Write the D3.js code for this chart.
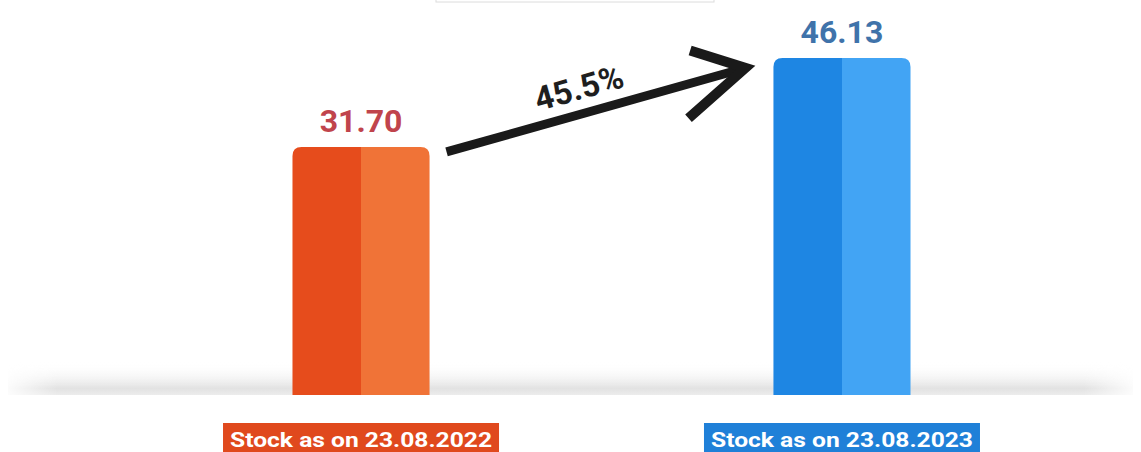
<!DOCTYPE html>
<html>
<head>
    <style>
        body {
            margin: 0;
            background-color: #ffffff;
            font-family: Roboto, Arial, sans-serif;
        }
        .value {
            font-weight: bold;
            font-size: 32px;
            text-anchor: middle;
        }
        .cat {
            font-weight: bold;
            font-size: 21px;
            fill: #ffffff;
            text-anchor: middle;
        }
    </style>
</head>
<body>
    <div id="chart"></div>
    <script src="https://cdn.jsdelivr.net/npm/d3@7"></script>
    <script>
        var categories = ["Stock as on 23.08.2022", "Stock as on 23.08.2023"];
        var values = [31.70, 46.13];
        var growthLabel = "45.5%";
        var darkColors = ["#e64c1c", "#1e86e3"];
        var lightColors = ["#f07337", "#42a4f4"];
        var boxColors = ["#e0491d", "#1f80d8"];
        var valueColors = ["#c0444c", "#3f73aa"];

        var width = 1141, height = 452;
        var floorY = 395;

        var svg = d3.select("#chart").append("svg")
            .attr("width", width)
            .attr("height", height);

        var defs = svg.append("defs");

        // two tone fill for each bar
        categories.forEach(function(c, i) {
            var g = defs.append("linearGradient")
                .attr("id", "bar" + i)
                .attr("x1", "0%").attr("x2", "100%");
            g.append("stop").attr("offset", "0%").attr("stop-color", darkColors[i]);
            g.append("stop").attr("offset", "50%").attr("stop-color", darkColors[i]);
            g.append("stop").attr("offset", "50%").attr("stop-color", lightColors[i]);
            g.append("stop").attr("offset", "100%").attr("stop-color", lightColors[i]);
        });

        var floorGrad = defs.append("linearGradient")
            .attr("id", "floor")
            .attr("x1", "0").attr("x2", "0").attr("y1", "0").attr("y2", "1");
        floorGrad.append("stop").attr("offset", "0%").attr("stop-color", "#ffffff").attr("stop-opacity", 0);
        floorGrad.append("stop").attr("offset", "80%").attr("stop-color", "#e2e2e2").attr("stop-opacity", 1);
        floorGrad.append("stop").attr("offset", "100%").attr("stop-color", "#ececec").attr("stop-opacity", 1);

        var floorFade = defs.append("linearGradient")
            .attr("id", "floorFade")
            .attr("x1", "0").attr("x2", "1");
        floorFade.append("stop").attr("offset", "0%").attr("stop-color", "#fff").attr("stop-opacity", 0);
        floorFade.append("stop").attr("offset", "5%").attr("stop-color", "#fff").attr("stop-opacity", 1);
        floorFade.append("stop").attr("offset", "95%").attr("stop-color", "#fff").attr("stop-opacity", 1);
        floorFade.append("stop").attr("offset", "100%").attr("stop-color", "#fff").attr("stop-opacity", 0);
        defs.append("mask").attr("id", "floorMask")
            .append("rect")
            .attr("x", 0).attr("y", 0).attr("width", width).attr("height", height)
            .attr("fill", "url(#floorFade)");

        var x = d3.scaleBand()
            .domain(categories)
            .range([52, 1151])
            .paddingInner(0.715)
            .paddingOuter(0.5);

        var y = d3.scaleLinear()
            .domain([-8.5, 50])
            .range([floorY, 34]);

        // faint title box cut at the top
        svg.append("rect")
            .attr("x", 436).attr("y", -30)
            .attr("width", 278).attr("height", 32)
            .attr("fill", "none")
            .attr("stroke", "#dcdcdc");

        // floor shading
        svg.append("rect")
            .attr("x", 8).attr("y", 362)
            .attr("width", width - 16).attr("height", floorY - 362)
            .attr("fill", "url(#floor)")
            .attr("mask", "url(#floorMask)");

        var r = 9;
        svg.selectAll("path.bar")
            .data(values)
            .enter().append("path")
            .attr("class", "bar")
            .attr("fill", function(d, i) { return "url(#bar" + i + ")"; })
            .attr("d", function(d, i) {
                var x0 = x(categories[i]), w = x.bandwidth(), t = y(d), b = y(-8.5);
                return "M" + x0 + "," + b +
                    " V" + (t + r) +
                    " Q" + x0 + "," + t + " " + (x0 + r) + "," + t +
                    " H" + (x0 + w - r) +
                    " Q" + (x0 + w) + "," + t + " " + (x0 + w) + "," + (t + r) +
                    " V" + b + " Z";
            });

        svg.selectAll("text.value")
            .data(values)
            .enter().append("text")
            .attr("class", "value")
            .attr("x", function(d, i) { return x(categories[i]) + x.bandwidth() / 2; })
            .attr("y", function(d) { return y(d) - 15; })
            .attr("fill", function(d, i) { return valueColors[i]; })
            .text(function(d) { return d.toFixed(2); });

        // category labels in coloured boxes
        var boxW = 276;
        var cat = svg.selectAll("g.cat")
            .data(categories)
            .enter().append("g")
            .attr("transform", function(d) {
                return "translate(" + (x(d) + x.bandwidth() / 2) + ",423)";
            });
        cat.append("rect")
            .attr("x", -boxW / 2).attr("y", 0)
            .attr("width", boxW).attr("height", 36)
            .attr("fill", function(d, i) { return boxColors[i]; });
        cat.append("text")
            .attr("class", "cat")
            .attr("y", 24)
            .attr("textLength", 262)
            .attr("lengthAdjust", "spacingAndGlyphs")
            .text(function(d) { return d; });

        // growth arrow between the two bars
        var x1 = x(categories[0]) + x.bandwidth() + 17, y1 = y(values[0]) + 5;
        var x2 = x(categories[1]) - 28, y2 = y(values[1]) + 10;
        var ang = Math.atan2(y2 - y1, x2 - x1);
        var a1 = ang + Math.PI - 0.45, a2 = ang + Math.PI + 0.58;
        svg.append("line")
            .attr("x1", x1).attr("y1", y1)
            .attr("x2", x2 - 4 * Math.cos(ang)).attr("y2", y2 - 4 * Math.sin(ang))
            .attr("stroke", "#1a1a1a")
            .attr("stroke-width", 9);
        svg.append("path")
            .attr("d", "M" + (x2 + 76 * Math.cos(a1)) + "," + (y2 + 76 * Math.sin(a1)) +
                " L" + x2 + "," + y2 +
                " L" + (x2 + 58 * Math.cos(a2)) + "," + (y2 + 58 * Math.sin(a2)))
            .attr("fill", "none")
            .attr("stroke", "#1a1a1a")
            .attr("stroke-width", 10)
            .attr("stroke-linejoin", "miter");

        var mx = 582, my = 99;
        svg.append("text")
            .attr("transform", "translate(" + mx + "," + my + ") rotate(" + (ang * 180 / Math.PI) + ")")
            .attr("text-anchor", "middle")
            .attr("font-size", 33)
            .attr("font-weight", "bold")
            .attr("fill", "#1e1e1e")
            .text(growthLabel);
    </script>
</body>
</html>
